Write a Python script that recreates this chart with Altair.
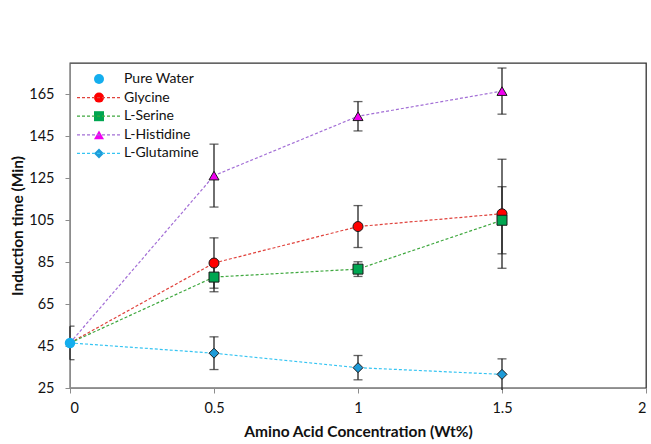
import altair as alt
import pandas as pd

# ---- data ----
series_names = ["Pure Water", "Glycine", "L-Serine", "L-Histidine", "L-Glutamine"]
conc = [0.5, 1.0, 1.5]
water_value = 46.5
water_err = 8.0
glycine = [84.6, 102.0, 108.1]
glycine_err = [12.0, 10.0, 26.0]
serine = [77.9, 81.7, 105.0]
serine_err = [7.0, 3.5, 16.0]
histidine = [126.3, 154.6, 166.6]
histidine_err = [15.0, 7.0, 11.0]
glutamine = [41.6, 34.7, 31.5]
glutamine_err = [7.8, 5.8, 7.4]

x_ticks = [0, 0.5, 1, 1.5, 2]
y_ticks = [25, 45, 65, 85, 105, 125, 145, 165]

line_colors = ["transparent", "#E0423C", "#3FA83F", "#A36FD6", "#35C4F2"]
fill_colors = ["#14AEEE", "#FF0000", "#00A651", "#F000F0", "#1E9BD8"]
shapes = ["circle", "circle", "square", "triangle-up", "diamond"]

amino = {
    "Glycine": (glycine, glycine_err),
    "L-Serine": (serine, serine_err),
    "L-Histidine": (histidine, histidine_err),
    "L-Glutamine": (glutamine, glutamine_err),
}

rows_pts = [{"series": "Pure Water", "x": 0.0, "y": water_value, "err": water_err}]
rows_line = []
for name, (vals, errs) in amino.items():
    rows_line.append({"series": name, "x": 0.0, "y": water_value})
    for cx, v, e in zip(conc, vals, errs):
        rows_pts.append({"series": name, "x": cx, "y": v, "err": e})
        rows_line.append({"series": name, "x": cx, "y": v})

pts = pd.DataFrame(rows_pts)
pts["lo"] = pts["y"] - pts["err"]
pts["hi"] = pts["y"] + pts["err"]
lines = pd.DataFrame(rows_line)

FONT = "Lato"

xscale = alt.Scale(domain=[0, 2], nice=False)
yscale = alt.Scale(domain=[25, 180], nice=False, zero=False)

x_axis = alt.Axis(
    values=x_ticks, labelExpr="datum.value", title="Amino Acid Concentration (Wt%)",
    grid=False, domainColor="#8c8c8c", tickColor="#8c8c8c", tickSize=5,
    labelFont=FONT, labelFontSize=14.5, labelColor="#111", labelPadding=8,
    titleFont=FONT, titleFontSize=15.5, titleFontWeight="bold", titleColor="#111",
    titlePadding=10,
)
y_axis = alt.Axis(
    values=y_ticks, title="Induction time (Min)",
    grid=False, domainColor="#8c8c8c", tickColor="#8c8c8c", tickSize=5,
    labelFont=FONT, labelFontSize=14.5, labelColor="#111", labelPadding=11,
    titleFont=FONT, titleFontSize=15.5, titleFontWeight="bold", titleColor="#111",
    titlePadding=3,
)

X = alt.X("x:Q", scale=xscale, axis=x_axis)
Y = alt.Y("y:Q", scale=yscale, axis=y_axis)

LEG_X, LEG_Y, ROWPAD = 22, 9, 4.6

line_layer = alt.Chart(lines).mark_line(strokeDash=[3, 2], strokeWidth=1.2).encode(
    x=X, y=Y,
    stroke=alt.Stroke(
        "series:N",
        scale=alt.Scale(domain=series_names, range=line_colors),
        legend=alt.Legend(
            orient="none", legendX=LEG_X, legendY=LEG_Y, title=None, padding=0,
            symbolType="M-4.4,0H4.4", symbolSize=100, symbolDash=[3, 2],
            symbolStrokeWidth=1.2, symbolFillColor="transparent",
            labelFont=FONT, labelFontSize=14, labelColor="#111",
            labelOffset=18, rowPadding=ROWPAD,
        ),
    ),
    detail="series:N",
)

err_rule = alt.Chart(pts).mark_rule(color="#222", strokeWidth=1.3).encode(
    x=alt.X("x:Q", scale=xscale), y=alt.Y("lo:Q", scale=yscale), y2="hi:Q"
)
cap_lo = alt.Chart(pts).mark_tick(color="#222", thickness=1.3, size=9, orient="horizontal", clip=True).encode(
    x=alt.X("x:Q", scale=xscale), y=alt.Y("lo:Q", scale=yscale)
)
cap_hi = alt.Chart(pts).mark_tick(color="#222", thickness=1.3, size=9, orient="horizontal", clip=True).encode(
    x=alt.X("x:Q", scale=xscale), y=alt.Y("hi:Q", scale=yscale)
)

leg2 = alt.Legend(
    orient="none", legendX=LEG_X, legendY=LEG_Y, title=None, padding=0,
    symbolSize=100, symbolStrokeWidth=1, symbolStrokeColor="#1a1a1a",
    labelFont=FONT, labelFontSize=14, labelColor="transparent", labelExpr="' '",
    labelOffset=18, rowPadding=ROWPAD,
)
fill_scale = alt.Scale(domain=series_names, range=fill_colors)
shape_scale = alt.Scale(domain=series_names, range=shapes)

point_layer = alt.Chart(pts).transform_filter(alt.datum.series != "Pure Water").mark_point(
    filled=False, size=100, opacity=1, fillOpacity=1, color="#1a1a1a", stroke="#1a1a1a", strokeWidth=1
).encode(
    x=X, y=Y,
    fill=alt.Fill("series:N", scale=fill_scale, legend=leg2),
    shape=alt.Shape("series:N", scale=shape_scale, legend=leg2),
)
water_layer = alt.Chart(pts).transform_filter(alt.datum.series == "Pure Water").mark_point(
    filled=True, size=110, opacity=1, strokeWidth=0
).encode(
    x=X, y=Y,
    fill=alt.Fill("series:N", scale=fill_scale, legend=leg2),
    shape=alt.Shape("series:N", scale=shape_scale, legend=leg2),
)

chart = alt.layer(line_layer, err_rule, cap_lo, cap_hi, point_layer, water_layer).properties(
    width=576, height=325,
    padding={"left": 70, "top": 63, "right": 5, "bottom": 56},
    autosize=alt.AutoSizeParams(type="none"),
    background="white",
).resolve_legend(stroke="independent").configure_view(stroke="#333", strokeWidth=1.3)

chart.save("out.html", embed_options={"renderer": "svg", "actions": False})
